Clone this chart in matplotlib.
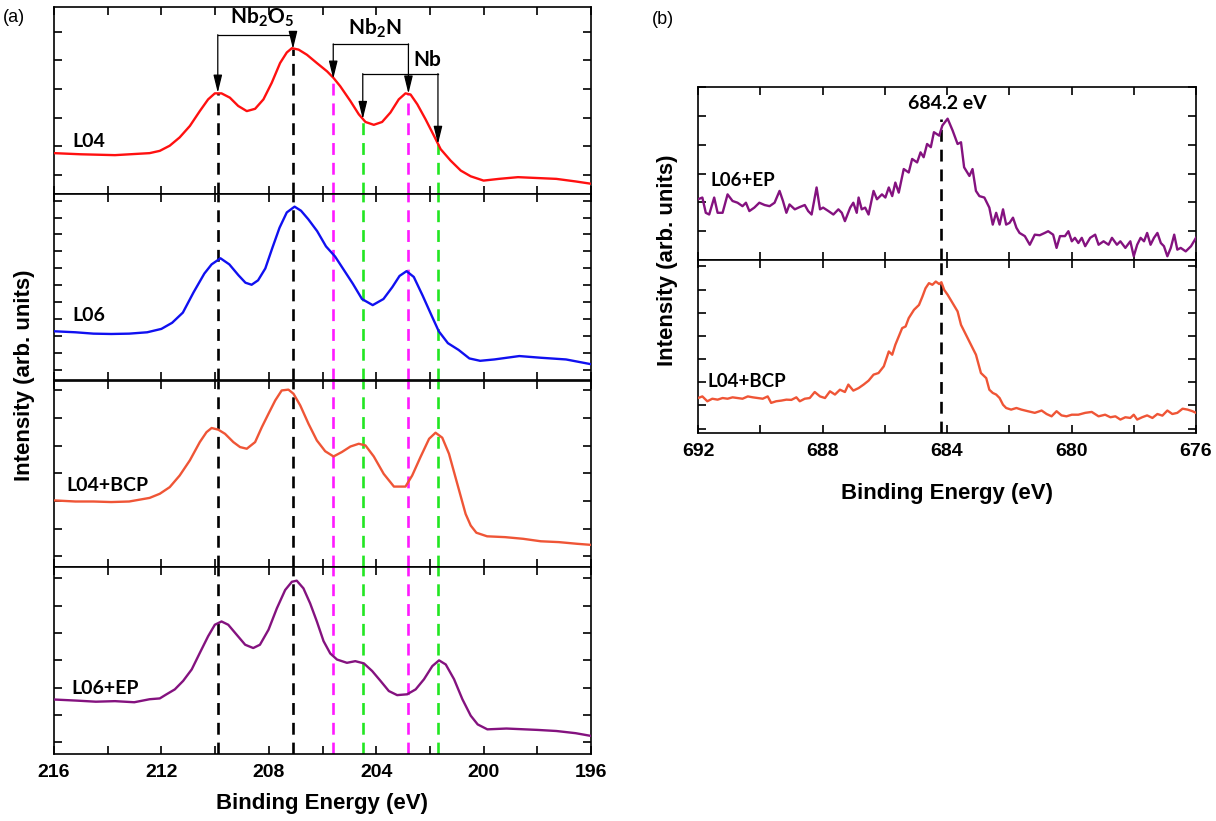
import matplotlib
matplotlib.use("Agg")
import matplotlib.pyplot as plt
from matplotlib.ticker import MultipleLocator

plt.rcParams["font.family"] = ["Liberation Sans", "DejaVu Sans"]
plt.rcParams["mathtext.fontset"] = "custom"
plt.rcParams["mathtext.rm"] = "Lato:bold"
plt.rcParams["mathtext.bf"] = "Lato:bold"
plt.rcParams["mathtext.it"] = "Lato:bold"

# ---- (a) Nb 3d spectra, intensity in arbitrary units ----
l04_e = [216.0, 215.0, 213.73, 212.44, 212.06, 211.69, 211.32, 210.94, 210.57, 210.26,
         210.01, 209.76, 209.45, 209.14, 208.82, 208.51, 208.20, 207.89, 207.58, 207.33,
         207.14, 206.89, 206.58, 206.21, 205.83, 205.59, 205.34, 204.96, 204.65, 204.40,
         204.09, 203.78, 203.47, 203.16, 202.91, 202.72, 202.47, 202.16, 201.85, 201.60,
         201.23, 200.85, 200.48, 200.0, 199.43, 198.72, 197.29, 196.57, 196.0]
l04_i = [0.76, 0.72, 0.69, 0.76, 0.84, 1.02, 1.31, 1.71, 2.23, 2.64,
         2.85, 2.85, 2.70, 2.41, 2.23, 2.31, 2.64, 3.22, 3.91, 4.28,
         4.43, 4.38, 4.20, 3.91, 3.62, 3.39, 3.10, 2.58, 2.12, 1.85,
         1.75, 1.85, 2.18, 2.64, 2.85, 2.81, 2.47, 1.94, 1.37, 0.90,
         0.50, 0.15, -0.05, -0.20, -0.14, -0.08, -0.14, -0.23, -0.31]

l06_e = [216.0, 215.2, 214.53, 213.87, 213.2, 212.53, 212.0, 211.6, 211.2, 210.8,
         210.4, 210.13, 209.8, 209.47, 209.13, 208.87, 208.64, 208.4, 208.13, 207.87,
         207.6, 207.33, 207.04, 206.8, 206.53, 206.2, 205.87, 205.53, 205.2, 204.87,
         204.53, 204.13, 203.73, 203.4, 203.13, 202.87, 202.6, 202.27, 201.93, 201.67,
         201.33, 200.93, 200.53, 200.13, 199.6, 198.67, 197.87, 196.93, 196.0]
l06_i = [2.30, 2.24, 2.16, 2.14, 2.16, 2.24, 2.44, 2.80, 3.40, 4.60,
         5.70, 6.24, 6.60, 6.24, 5.60, 5.16, 5.04, 5.30, 6.00, 7.20,
         8.40, 9.30, 9.64, 9.40, 8.90, 8.20, 7.30, 6.70, 5.90, 5.10,
         4.20, 3.84, 4.20, 4.90, 5.56, 5.84, 5.50, 4.40, 3.20, 2.30,
         1.60, 1.20, 0.70, 0.56, 0.64, 0.84, 0.74, 0.64, 0.36]

l04bcp_e = [216.0, 215.2, 214.53, 213.87, 213.2, 212.44, 212.06, 211.69, 211.32, 210.94,
            210.57, 210.32, 210.13, 209.88, 209.63, 209.32, 209.07, 208.82, 208.51, 208.26,
            208.01, 207.76, 207.52, 207.27, 207.08, 206.83, 206.52, 206.21, 205.90, 205.59,
            205.28, 204.96, 204.65, 204.40, 204.09, 203.72, 203.34, 202.91, 202.66, 202.35,
            202.03, 201.79, 201.54, 201.29, 200.98, 200.67, 200.48, 200.27, 199.87, 199.2,
            198.53, 197.87, 197.2, 196.53, 196.0]
l04bcp_i = [2.02, 1.98, 1.98, 1.96, 1.98, 2.11, 2.26, 2.50, 2.92, 3.47,
            4.13, 4.49, 4.64, 4.58, 4.43, 4.13, 3.95, 3.89, 4.13, 4.67,
            5.16, 5.64, 6.00, 6.03, 5.88, 5.46, 4.79, 4.19, 3.80, 3.61,
            3.77, 3.97, 4.07, 4.01, 3.61, 2.98, 2.52, 2.52, 2.92, 3.59,
            4.25, 4.47, 4.29, 3.71, 2.62, 1.53, 1.11, 0.85, 0.72, 0.69,
            0.63, 0.54, 0.51, 0.45, 0.41]

l06ep_e = [216.0, 215.16, 214.44, 213.73, 213.01, 212.44, 212.06, 211.81, 211.50, 211.19,
           210.87, 210.57, 210.26, 210.01, 209.76, 209.51, 209.20, 208.88, 208.58, 208.33,
           208.01, 207.70, 207.39, 207.14, 206.96, 206.71, 206.46, 206.21, 205.96, 205.71,
           205.46, 205.09, 204.78, 204.46, 204.15, 203.84, 203.53, 203.22, 202.85, 202.53,
           202.22, 201.91, 201.66, 201.41, 201.10, 200.79, 200.48, 200.22, 199.86, 199.15,
           198.0, 197.29, 196.57, 196.0]
l06ep_i = [1.57, 1.53, 1.49, 1.51, 1.47, 1.58, 1.61, 1.76, 1.94, 2.25,
           2.67, 3.27, 3.88, 4.30, 4.42, 4.30, 3.94, 3.57, 3.45, 3.57,
           4.12, 4.90, 5.57, 5.87, 5.91, 5.63, 5.08, 4.42, 3.70, 3.25,
           3.03, 2.91, 2.97, 2.89, 2.61, 2.25, 1.88, 1.73, 1.76, 1.94,
           2.31, 2.79, 3.00, 2.85, 2.31, 1.58, 0.98, 0.66, 0.48, 0.51,
           0.46, 0.42, 0.34, 0.24]

# peak positions (eV) marked by dashed lines, with arrow tip heights in the L04 panel
peak_e = [209.9, 207.1, 205.6, 204.5, 202.8, 201.7]
peak_tip = [2.87, 4.40, 3.36, 1.95, 2.84, 1.08]

# ---- (b) F 1s spectra ----
ep_e = [692.00, 691.86, 691.75, 691.64, 691.48, 691.37, 691.21, 691.05, 690.89, 690.73,
        690.57, 690.46, 690.35, 690.19, 690.03, 689.86, 689.70, 689.54, 689.38, 689.27,
        689.16, 689.06, 688.89, 688.73, 688.57, 688.46, 688.35, 688.19, 688.08, 687.98,
        687.81, 687.65, 687.49, 687.38, 687.28, 687.11, 687.01, 686.90, 686.84, 686.74,
        686.63, 686.52, 686.36, 686.25, 686.09, 685.98, 685.87, 685.76, 685.66, 685.55,
        685.39, 685.23, 685.12, 684.96, 684.85, 684.75, 684.64, 684.52, 684.42, 684.25,
        684.15, 683.98, 683.82, 683.66, 683.55, 683.45, 683.28, 683.18, 683.07, 682.96,
        682.80, 682.64, 682.53, 682.42, 682.31, 682.20, 682.10, 681.99, 681.88, 681.77,
        681.67, 681.50, 681.34, 681.18, 681.02, 680.86, 680.75, 680.59, 680.48, 680.37,
        680.21, 680.10, 679.99, 679.89, 679.78, 679.67, 679.56, 679.40, 679.24, 679.13,
        678.97, 678.81, 678.70, 678.54, 678.43, 678.27, 678.11, 678.00, 677.89, 677.78,
        677.67, 677.57, 677.46, 677.35, 677.24, 677.13, 677.03, 676.92, 676.81, 676.70,
        676.60, 676.49, 676.33, 676.16, 676.00]
ep_i = [1.11, 1.17, 0.64, 0.58, 1.17, 0.64, 0.64, 1.28, 1.05, 0.99,
        0.87, 0.99, 0.70, 0.82, 0.99, 0.91, 0.87, 0.99, 1.40, 1.05,
        0.64, 0.93, 0.76, 0.84, 0.91, 0.70, 0.58, 1.52, 0.76, 0.82,
        0.70, 0.58, 0.76, 0.64, 0.35, 0.82, 0.99, 0.64, 1.17, 0.76,
        0.82, 0.58, 1.40, 1.11, 1.28, 1.17, 1.52, 1.22, 1.69, 1.34,
        2.16, 2.04, 2.51, 2.39, 2.74, 2.57, 3.03, 2.92, 3.44, 3.32,
        3.67, 3.91, 3.50, 3.03, 3.09, 2.22, 1.92, 2.16, 1.40, 1.22,
        1.17, 0.82, 0.23, 0.64, 0.23, 0.76, 0.23, 0.29, 0.47, 0.12,
        -0.06, -0.17, -0.47, -0.12, -0.14, -0.06, 0.00, -0.12, -0.58, -0.17,
        -0.17, 0.00, -0.35, -0.23, -0.41, -0.23, -0.52, -0.23, -0.12, -0.47,
        -0.35, -0.47, -0.23, -0.47, -0.35, -0.58, -0.35, -0.87, -0.47, -0.23,
        -0.35, -0.06, -0.47, -0.23, -0.06, -0.41, -0.52, -0.87, -0.58, -0.12,
        -0.64, -0.58, -0.70, -0.52, -0.23]

bcp_e = [692.00, 691.86, 691.70, 691.54, 691.37, 691.21, 691.05, 690.89, 690.73, 690.57,
         690.40, 690.24, 690.08, 689.92, 689.76, 689.65, 689.49, 689.32, 689.16, 689.00,
         688.84, 688.73, 688.57, 688.41, 688.25, 688.08, 687.92, 687.76, 687.60, 687.44,
         687.28, 687.17, 687.01, 686.84, 686.68, 686.52, 686.36, 686.20, 686.03, 685.87,
         685.76, 685.66, 685.55, 685.44, 685.33, 685.23, 685.06, 684.90, 684.79, 684.69,
         684.58, 684.47, 684.36, 684.25, 684.18, 684.09, 683.98, 683.82, 683.66, 683.55,
         683.39, 683.23, 683.07, 682.91, 682.74, 682.64, 682.53, 682.42, 682.31, 682.20,
         682.10, 681.94, 681.77, 681.61, 681.40, 681.18, 680.96, 680.80, 680.64, 680.48,
         680.32, 680.16, 679.99, 679.78, 679.56, 679.35, 679.13, 678.92, 678.75, 678.59,
         678.43, 678.27, 678.11, 678.00, 677.89, 677.73, 677.57, 677.40, 677.24, 677.08,
         676.92, 676.76, 676.60, 676.43, 676.27, 676.11, 676.00]
bcp_i = [1.32, 1.39, 1.18, 1.29, 1.25, 1.32, 1.29, 1.35, 1.32, 1.29,
         1.39, 1.35, 1.32, 1.29, 1.39, 1.11, 1.18, 1.21, 1.25, 1.24,
         1.35, 1.18, 1.29, 1.32, 1.58, 1.39, 1.32, 1.61, 1.47, 1.68,
         1.58, 1.90, 1.64, 1.75, 1.90, 2.07, 2.33, 2.40, 2.69, 3.33,
         3.19, 3.62, 3.98, 4.34, 4.41, 4.77, 5.13, 5.34, 5.70, 6.06,
         6.28, 6.21, 6.35, 6.24, 6.32, 5.99, 5.78, 5.42, 5.06, 4.48,
         4.05, 3.62, 3.19, 2.40, 2.18, 1.68, 1.54, 1.47, 1.32, 1.03,
         0.89, 0.82, 0.89, 0.82, 0.75, 0.68, 0.78, 0.63, 0.53, 0.75,
         0.57, 0.53, 0.60, 0.60, 0.68, 0.72, 0.53, 0.60, 0.49, 0.53,
         0.39, 0.49, 0.46, 0.60, 0.39, 0.49, 0.57, 0.46, 0.63, 0.56,
         0.78, 0.63, 0.68, 0.86, 0.82, 0.75, 0.68]

RED = "#ff1010"
BLUE = "#1010f0"
ORANGE = "#ef5536"
PURPLE = "#84127f"
MAGENTA = "#ff1aff"
GREEN = "#22e622"
LABEL_FONT = ["Lato", "DejaVu Sans"]


def style_axes(ax, ylim, xlim, bottom_labels):
    ax.set_xlim(*xlim)
    ax.set_ylim(*ylim)
    ax.yaxis.set_major_locator(MultipleLocator(1))
    ax.xaxis.set_major_locator(MultipleLocator(4))
    ax.xaxis.set_minor_locator(MultipleLocator(2))
    ax.tick_params(which="both", direction="in", top=True, right=True,
                   length=6, width=1.2, labelleft=False,
                   labelbottom=bottom_labels, labelsize=14, pad=7)
    for lab in ax.get_xticklabels():
        lab.set_fontweight("bold")
    for sp in ax.spines.values():
        sp.set_linewidth(1.2)


fig = plt.figure(figsize=(12.16, 8.21), dpi=100)
W, H = 1216, 821

# panel (a) geometry in pixels
a_left, a_right, a_top, a_bottom = 54, 591, 7, 754
a_h = (a_bottom - a_top) / 4
spectra = [
    ("L04", l04_e, l04_i, RED, (-0.66, 5.87), (215.33, 1.18)),
    ("L06", l06_e, l06_i, BLUE, (-0.6, 10.4), (215.33, 3.2)),
    ("L04+BCP", l04bcp_e, l04bcp_i, ORANGE, (-0.4, 6.36), (215.53, 2.56)),
    ("L06+EP", l06ep_e, l06ep_i, PURPLE, (-0.42, 6.4), (215.37, 1.96)),
]
peak_colors = ["k", "k", MAGENTA, GREEN, MAGENTA, GREEN]

axes_a = []
for k, (name, e, inten, col, ylim, lab_pos) in enumerate(spectra):
    y0 = 1 - (a_top + (k + 1) * a_h) / H
    ax = fig.add_axes([a_left / W, y0, (a_right - a_left) / W, a_h / H])
    ax.plot(e, inten, color=col, lw=1.7, zorder=3)
    style_axes(ax, ylim, (216, 196), k == 3)
    ax.text(lab_pos[0], lab_pos[1], name, fontfamily=LABEL_FONT, fontweight="bold",
            fontsize=14, ha="left", va="center")
    for pe, pc, tip in zip(peak_e, peak_colors, peak_tip):
        top = tip if k == 0 else ylim[1]
        ax.vlines(pe, ylim[0], top, colors=pc, linestyles=(0, (4.5, 3)), lw=1.9, zorder=2)
    axes_a.append(ax)

ax1 = axes_a[0]
# bracket annotations: (left peak, right peak, bar height, label, label x, label y)
brackets = [
    (0, 1, 4.90, r"Nb$_{\mathbf{2}}$O$_{\mathbf{5}}$", 208.25, 5.52),
    (2, 4, 4.58, r"Nb$_{\mathbf{2}}$N", 204.05, 5.13),
    (3, 5, 3.54, "Nb", 202.1, 4.03),
]
for i, j, h, txt, tx, ty in brackets:
    ax1.plot([peak_e[i], peak_e[j]], [h, h], color="k", lw=0.9, zorder=4)
    for idx in (i, j):
        ax1.annotate("", xy=(peak_e[idx], peak_tip[idx]), xytext=(peak_e[idx], h),
                     arrowprops=dict(arrowstyle="-|>,head_length=0.9,head_width=0.22",
                                     color="k", lw=0.9, shrinkA=0, shrinkB=0,
                                     mutation_scale=12), zorder=4)
    ax1.text(tx, ty, txt, fontfamily=LABEL_FONT, fontweight="bold", fontsize=15,
             ha="center", va="center")

fig.text(25 / W, 1 - 375 / H, "Intensity (arb. units)", rotation=90, fontsize=16,
         fontweight="bold", ha="center", va="center")
fig.text((a_left + a_right) / 2 / W, 1 - 803 / H, "Binding Energy (eV)", fontsize=16,
         fontweight="bold", ha="center", va="center")
fig.text(14 / W, 1 - 18 / H, "(a)", fontsize=13, ha="center", va="center")

# panel (b)
b_left, b_right, b_top, b_bottom = 698, 1196, 87, 433
b_h = (b_bottom - b_top) / 2
b_spectra = [
    ("L06+EP", ep_e, ep_i, PURPLE, (-1.0, 5.01), (691.59, 1.75)),
    ("L04+BCP", bcp_e, bcp_i, ORANGE, (-0.19, 7.28), (691.70, 2.04)),
]
for k, (name, e, inten, col, ylim, lab_pos) in enumerate(b_spectra):
    y0 = 1 - (b_top + (k + 1) * b_h) / H
    ax = fig.add_axes([b_left / W, y0, (b_right - b_left) / W, b_h / H])
    ax.plot(e, inten, color=col, lw=1.7, zorder=3)
    style_axes(ax, ylim, (692, 676), k == 1)
    ax.text(lab_pos[0], lab_pos[1], name, fontfamily=LABEL_FONT, fontweight="bold",
            fontsize=13.5, ha="left", va="center")
    top = 3.91 if k == 0 else ylim[1]
    ax.vlines(684.2, ylim[0], top, colors="k", linestyles=(0, (4.5, 3)), lw=1.9, zorder=2)
    if k == 0:
        ax.text(684.0, 4.43, "684.2 eV", fontfamily=LABEL_FONT, fontweight="bold",
                fontsize=14, ha="center", va="center")

fig.text(668 / W, 1 - 260 / H, "Intensity (arb. units)", rotation=90, fontsize=16,
         fontweight="bold", ha="center", va="center")
fig.text((b_left + b_right) / 2 / W, 1 - 493 / H, "Binding Energy (eV)", fontsize=16,
         fontweight="bold", ha="center", va="center")
fig.text(663 / W, 1 - 20 / H, "(b)", fontsize=13, ha="center", va="center")

fig.savefig("out.png", dpi=100)
